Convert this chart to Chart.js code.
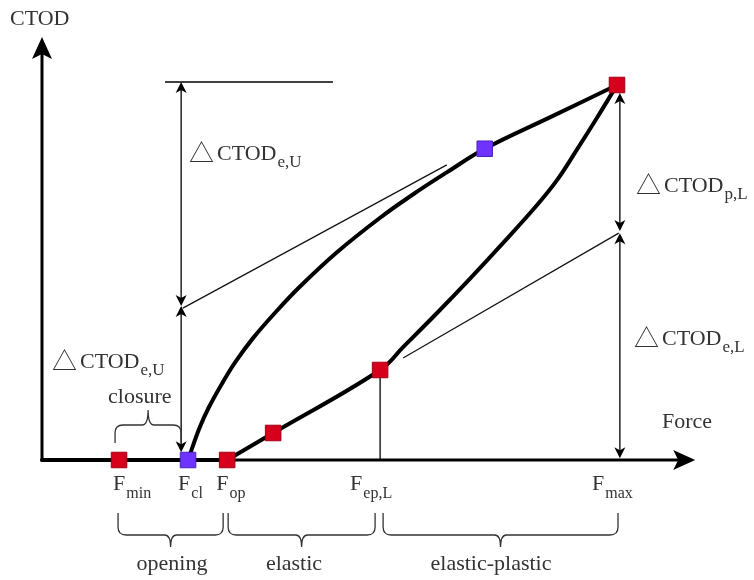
<!DOCTYPE html>
<html lang="en">
  <head>
    <meta charset="UTF-8" />
    <meta name="viewport" content="width=device-width, initial-scale=1.0" />
    <title>CTOD - Force</title>
    <script src="https://cdn.jsdelivr.net/npm/chart.js"></script>
    <style>
      body { margin: 0; background: #fff; }
      #wrap { width: 754px; height: 580px; }
    </style>
  </head>
  <body>
    <div id="wrap"><canvas id="myChart"></canvas></div>

    <script>
      // characteristic force levels: F_min, F_cl, F_op, F_ep,L, F_max
      const forceLevels = [1.34, 2.54, 3.22, 5.88, 10.0];
      const forceNames = ["min", "cl", "op", "ep,L", "max"];
      const phaseNames = ["opening", "elastic", "elastic-plastic"];

      // loading branch (opens at F_op)
      const loadForce = [3.22, 4.02, 5.88, 6.28, 6.87, 7.44, 8.02, 8.61, 8.96, 9.30, 9.65, 10.0];
      const loadCtod = [0, 0.072, 0.24, 0.301, 0.392, 0.483, 0.579, 0.68, 0.747, 0.827, 0.912, 1.0];

      // unloading branch (closes at F_cl)
      const unloadForce = [2.54, 2.73, 2.9, 3.15, 3.37, 3.67, 4.02, 4.47, 5.13, 5.88, 6.45, 7.04, 7.7, 8.85, 10.0];
      const unloadCtod = [0, 0.082, 0.14, 0.209, 0.263, 0.325, 0.387, 0.46, 0.554, 0.646, 0.708, 0.767, 0.83, 0.915, 1.0];

      // marked points
      const redForce = [1.34, 3.22, 4.02, 5.88, 10.0];
      const redCtod = [0, 0, 0.072, 0.24, 1.0];
      const blueForce = [2.54, 7.7];
      const blueCtod = [0, 0.83];

      // secants used for the elastic parts
      const unloadSecantForce = [2.45, 7.04];
      const unloadSecantCtod = [0.405, 0.787];
      const loadSecantForce = [6.28, 10.03];
      const loadSecantCtod = [0.272, 0.605];

      const pts = (xs, ys) => xs.map((v, i) => ({ x: v, y: ys[i] }));

      const SERIF = '"Liberation Serif", "Times New Roman", serif';
      const TEXT = "#333";

      function arrowHead(ctx, tx, ty, dx, dy, len, half, notch) {
        const bx = tx - dx * len, by = ty - dy * len;
        const nx = -dy, ny = dx;
        ctx.beginPath();
        ctx.moveTo(tx, ty);
        ctx.lineTo(bx + nx * half, by + ny * half);
        ctx.lineTo(tx - dx * (len - notch), ty - dy * (len - notch));
        ctx.lineTo(bx - nx * half, by - ny * half);
        ctx.closePath();
        ctx.fill();
      }

      // vertical double-headed dimension arrow
      function dimArrow(ctx, x, y1, y2) {
        ctx.lineWidth = 1.3;
        ctx.beginPath();
        ctx.moveTo(x, y1 + 3);
        ctx.lineTo(x, y2 - 3);
        ctx.stroke();
        arrowHead(ctx, x, y1, 0, -1, 11, 5.5, 3);
        arrowHead(ctx, x, y2, 0, 1, 11, 5.5, 3);
      }

      // curly brace between x1 and x2; ends at yEnd, bar at yBar, tip at yTip
      function brace(ctx, x1, x2, yEnd, yBar, yTip) {
        const r = 8, s = Math.sign(yBar - yEnd), xc = (x1 + x2) / 2;
        ctx.beginPath();
        ctx.moveTo(x1, yEnd);
        ctx.lineTo(x1, yBar - r * s);
        ctx.quadraticCurveTo(x1, yBar, x1 + r, yBar);
        ctx.lineTo(xc - 6, yBar);
        ctx.quadraticCurveTo(xc, yBar, xc, yTip);
        ctx.moveTo(xc, yTip);
        ctx.quadraticCurveTo(xc, yBar, xc + 6, yBar);
        ctx.lineTo(x2 - r, yBar);
        ctx.quadraticCurveTo(x2, yBar, x2, yBar - r * s);
        ctx.lineTo(x2, yEnd);
        ctx.stroke();
      }

      function subText(ctx, main, sub, x, y, size, subSize, drop) {
        ctx.font = size + "px " + SERIF;
        ctx.fillText(main, x, y);
        const w = ctx.measureText(main).width;
        ctx.font = subSize + "px " + SERIF;
        ctx.fillText(sub, x + w + 1, y + drop);
      }

      function deltaText(ctx, sub, x, y) {
        ctx.font = '25px "Noto Sans CJK SC", "DejaVu Sans"';
        ctx.fillText("\u25B3", x - 1, y + 2);
        subText(ctx, "CTOD", sub, x + 27, y, 22, 17, 7);
      }

      const sketch = {
        id: "sketch",
        beforeDatasetsDraw(chart) {
          const { ctx, scales: { x, y } } = chart;
          const px = (v) => x.getPixelForValue(v);
          const py = (v) => y.getPixelForValue(v);
          const ox = px(0), oy = py(0);
          ctx.save();
          ctx.fillStyle = "#000";
          ctx.strokeStyle = "#000";

          // axes
          ctx.lineWidth = 3;
          ctx.beginPath();
          ctx.moveTo(ox, oy);
          ctx.lineTo(px(11.36) - 15, oy);
          ctx.moveTo(ox, oy + 1.5);
          ctx.lineTo(ox, py(1.128) + 15);
          ctx.stroke();
          arrowHead(ctx, px(11.36), oy, 1, 0, 22, 10, 5);
          arrowHead(ctx, ox, py(1.128), 0, -1, 22, 10, 5);

          // elastic ranges on the unloading side
          const xl = px(2.42);
          ctx.lineWidth = 1.3;
          ctx.beginPath();
          ctx.moveTo(px(2.14), py(1.008));
          ctx.lineTo(px(5.06), py(1.008));
          ctx.stroke();
          dimArrow(ctx, xl, py(1.008), py(0.411));
          dimArrow(ctx, xl, py(0.411), py(0.021));

          // ranges on the loading side
          const xr = px(10.05);
          dimArrow(ctx, xr, py(0.979), py(0.611));
          dimArrow(ctx, xr, py(0.605), py(0.005));

          // F_ep,L drop line
          ctx.lineWidth = 1.3;
          ctx.beginPath();
          ctx.moveTo(px(forceLevels[3]), py(0.24));
          ctx.lineTo(px(forceLevels[3]), oy);
          ctx.stroke();

          // braces
          ctx.strokeStyle = "#333";
          ctx.lineWidth = 1.3;
          brace(ctx, px(forceLevels[0]) - 4, xl, 443, 425, 410);
          const ends = [
            [px(forceLevels[0]) - 1, px(forceLevels[2]) - 4],
            [px(forceLevels[2]) + 1, px(forceLevels[3]) - 5],
            [px(forceLevels[3]) + 3, px(forceLevels[4]) + 1],
          ];
          ends.forEach(([a, b]) => brace(ctx, a, b, 513, 535, 547));
          ctx.restore();
        },
        afterDatasetsDraw(chart) {
          const { ctx, scales: { x } } = chart;
          const px = (v) => x.getPixelForValue(v);
          ctx.save();
          ctx.fillStyle = TEXT;
          ctx.textBaseline = "alphabetic";
          ctx.textAlign = "left";

          ctx.font = "22px " + SERIF;
          ctx.fillText("CTOD", 10, 25);
          ctx.fillText("Force", 662, 428);
          ctx.fillText("closure", 108, 403);

          deltaText(ctx, "e,U", 190, 160);
          deltaText(ctx, "e,U", 53, 368);
          deltaText(ctx, "p,L", 637, 192);
          deltaText(ctx, "e,L", 635, 345);

          const shift = [-6, -10, -11, -30, -25];
          forceLevels.forEach((f, i) => {
            subText(ctx, "F", forceNames[i], px(f) + shift[i], 490, 22, 16, 8);
          });

          ctx.font = "22px " + SERIF;
          ctx.textAlign = "center";
          const centres = [172, 294, 491];
          phaseNames.forEach((t, i) => ctx.fillText(t, centres[i], 570));
          ctx.restore();
        },
      };

      const curve = {
        showLine: true,
        borderColor: "#000",
        borderWidth: 4,
        pointRadius: 0,
        tension: 0.4,
        borderCapStyle: "round",
        clip: false,
      };

      const ctx = document.getElementById("myChart").getContext("2d");
      const myChart = new Chart(ctx, {
        type: "scatter",
        data: {
          datasets: [
            {
              label: "F_min / F_op / F_ep,L / F_max",
              data: pts(redForce, redCtod),
              pointStyle: "rect",
              pointRadius: 11,
              backgroundColor: "#d6001c",
              borderColor: "#a00018",
              borderWidth: 1,
              showLine: false,
              clip: false,
              order: 0,
            },
            {
              label: "F_cl",
              data: pts(blueForce, blueCtod),
              pointStyle: "rect",
              pointRadius: 11,
              backgroundColor: "#6f33ff",
              borderColor: "#4a22c0",
              borderWidth: 1,
              showLine: false,
              clip: false,
              order: 1,
            },
            { ...curve, label: "loading", data: pts(loadForce, loadCtod), order: 2 },
            { ...curve, label: "unloading", data: pts(unloadForce, unloadCtod), order: 3 },
            {
              ...curve,
              label: "closed",
              data: pts([0, forceLevels[2]], [0, 0]),
              tension: 0,
              order: 4,
            },
            {
              label: "secant unloading",
              data: pts(unloadSecantForce, unloadSecantCtod),
              showLine: true,
              borderColor: "#111",
              borderWidth: 1.2,
              pointRadius: 0,
              clip: false,
              order: 5,
            },
            {
              label: "secant loading",
              data: pts(loadSecantForce, loadSecantCtod),
              showLine: true,
              borderColor: "#111",
              borderWidth: 1.2,
              pointRadius: 0,
              clip: false,
              order: 6,
            },
          ],
        },
        options: {
          responsive: true,
          maintainAspectRatio: false,
          animation: false,
          events: [],
          layout: { padding: 0, autoPadding: false },
          plugins: { legend: { display: false }, tooltip: { enabled: false } },
          scales: {
            x: { type: "linear", display: false, min: -0.73043, max: 12.38261 },
            y: { type: "linear", display: false, min: -0.32, max: 1.22667 },
          },
        },
        plugins: [sketch],
      });
    </script>
  </body>
</html>
